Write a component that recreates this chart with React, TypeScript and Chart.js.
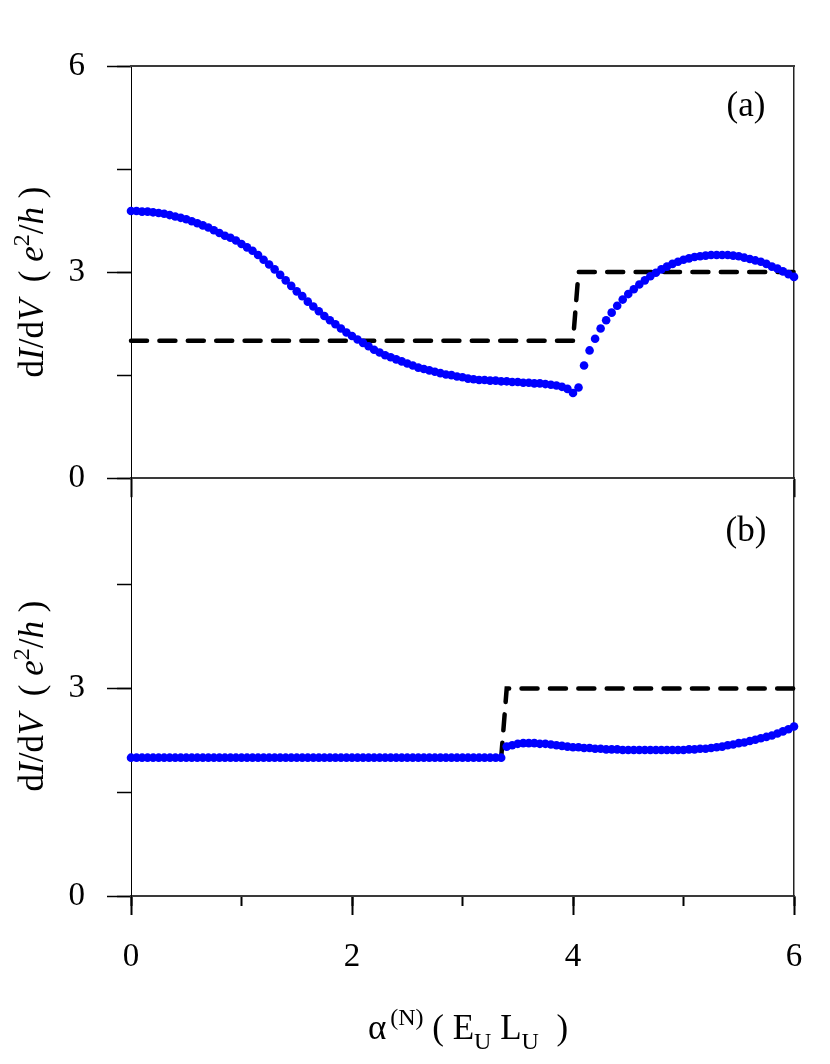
import { useEffect, useRef } from "react";
import { Chart, registerables, type ChartConfiguration } from "chart.js";

Chart.register(...registerables);

// sampling grid of the computed curves (alpha^(N) from 0 to 6)
const ALPHA_STEP = 0.05;

// panel (a): dI/dV, one value every 0.05 in alpha
const DIDV_A = [
  3.89, 3.89, 3.88, 3.88, 3.87, 3.86, 3.85, 3.83, 3.81, 3.79,
  3.77, 3.74, 3.71, 3.68, 3.65, 3.61, 3.57, 3.53, 3.5, 3.46,
  3.41, 3.36, 3.31, 3.25, 3.18, 3.11, 3.04, 2.96, 2.88, 2.8,
  2.72, 2.65, 2.57, 2.5, 2.43, 2.36, 2.3, 2.24, 2.18, 2.12,
  2.07, 2.02, 1.97, 1.92, 1.87, 1.83, 1.79, 1.76, 1.73, 1.7,
  1.67, 1.64, 1.61, 1.59, 1.57, 1.55, 1.53, 1.51, 1.5, 1.48,
  1.47, 1.45, 1.44, 1.43, 1.43, 1.42, 1.42, 1.41, 1.41, 1.4,
  1.4, 1.39, 1.39, 1.38, 1.38, 1.37, 1.36, 1.35, 1.33, 1.3,
  1.24, 1.32, 1.64, 1.86, 2.03, 2.18, 2.3, 2.41, 2.51, 2.6,
  2.68, 2.75, 2.82, 2.88, 2.94, 2.99, 3.04, 3.08, 3.12, 3.15,
  3.18, 3.2, 3.22, 3.23, 3.24, 3.25, 3.25, 3.25, 3.25, 3.24,
  3.23, 3.21, 3.19, 3.17, 3.15, 3.12, 3.08, 3.05, 3.01, 2.97,
  2.93,
];

// panel (b)
const DIDV_B = [
  2, 2, 2, 2, 2, 2, 2, 2, 2, 2,
  2, 2, 2, 2, 2, 2, 2, 2, 2, 2,
  2, 2, 2, 2, 2, 2, 2, 2, 2, 2,
  2, 2, 2, 2, 2, 2, 2, 2, 2, 2,
  2, 2, 2, 2, 2, 2, 2, 2, 2, 2,
  2, 2, 2, 2, 2, 2, 2, 2, 2, 2,
  2, 2, 2, 2, 2, 2, 2, 2, 2.16, 2.18,
  2.2, 2.21, 2.21, 2.21, 2.2, 2.2, 2.19, 2.18, 2.17, 2.16,
  2.15, 2.15, 2.14, 2.14, 2.13, 2.13, 2.12, 2.12, 2.12, 2.11,
  2.11, 2.11, 2.11, 2.11, 2.11, 2.11, 2.11, 2.11, 2.11, 2.11,
  2.11, 2.12, 2.12, 2.13, 2.13, 2.14, 2.15, 2.16, 2.18, 2.19,
  2.21, 2.22, 2.24, 2.26, 2.28, 2.3, 2.32, 2.35, 2.38, 2.41,
  2.45,
];

// dashed step (quantised conductance)
const STEP_A_X = [0, 4.0, 4.05, 6];
const STEP_A_Y = [2, 2, 3, 3];
const STEP_B_X = [0, 3.35, 3.4, 6];
const STEP_B_Y = [2, 2, 3, 3];

const X_MIN = 0;
const X_MAX = 6;
const Y_MIN = 0;
const Y_MAX = 6;
const Y_MAJOR = 3;
const Y_MINOR = 1.5;

const SERIF = '"Liberation Serif", "Times New Roman", serif';
const W = 830;

type PanelProps = {
  top: number;
  height: number;
  padTop: number;
  xHeight: number;
  values: number[];
  stepX: number[];
  stepY: number[];
  bottomPanel: boolean;
};

function buildConfig(p: PanelProps): ChartConfiguration<"scatter"> {
  const dots = p.values.map((v, i) => ({ x: +(i * ALPHA_STEP).toFixed(2), y: v }));
  const step = p.stepX.map((x, i) => ({ x, y: p.stepY[i] }));
  const tickFont = { family: SERIF, size: 33 };
  // the top tick of panel (b) is already drawn by panel (a)
  const yTickColor = (ctx: any) =>
    p.bottomPanel && ctx.tick && ctx.tick.value === Y_MAX ? "rgba(0,0,0,0)" : "#000";

  const scales: any = {
    x: {
      type: "linear",
      axis: "x",
      position: "bottom",
      weight: 1,
      min: X_MIN,
      max: X_MAX,
      afterFit: (s: any) => {
        s.height = p.xHeight;
      },
      ticks: {
        stepSize: p.bottomPanel ? 2 : 6,
        display: p.bottomPanel,
        font: tickFont,
        color: "#000",
        padding: 23,
        maxRotation: 0,
        autoSkip: false,
      },
      grid: { drawOnChartArea: false, tickLength: 19, tickWidth: 2, tickColor: "#000" },
      border: { color: "#3a3a3a", width: 2 },
    },
    y: {
      type: "linear",
      axis: "y",
      position: "left",
      weight: 1,
      min: Y_MIN,
      max: Y_MAX,
      afterFit: (s: any) => {
        s.width = 131;
      },
      ticks: {
        stepSize: Y_MAJOR,
        font: tickFont,
        color: "#000",
        padding: 22,
        callback: (v: any) => (p.bottomPanel && v === Y_MAX ? "" : String(v)),
      },
      grid: { drawOnChartArea: false, tickLength: 24, tickWidth: 1.5, tickColor: yTickColor },
      border: { color: "#000", width: 1 },
    },
    yMinor: {
      type: "linear",
      axis: "y",
      position: "left",
      weight: 0,
      min: Y_MIN,
      max: Y_MAX,
      afterFit: (s: any) => {
        s.width = 0;
      },
      ticks: { stepSize: Y_MINOR, display: false },
      grid: { drawOnChartArea: false, tickLength: 14, tickWidth: 1.5, tickColor: yTickColor },
      border: { display: false },
    },
    yRight: {
      type: "linear",
      axis: "y",
      position: "right",
      min: Y_MIN,
      max: Y_MAX,
      afterFit: (s: any) => {
        s.width = 0;
      },
      ticks: { display: false },
      grid: { drawOnChartArea: false, drawTicks: false },
      border: { color: "#222", width: 1.5 },
    },
  };

  if (p.bottomPanel) {
    scales.xMinor = {
      type: "linear",
      axis: "x",
      position: "bottom",
      weight: 0,
      min: X_MIN,
      max: X_MAX,
      afterFit: (s: any) => {
        s.height = 0;
      },
      ticks: { stepSize: 1, display: false },
      grid: { drawOnChartArea: false, tickLength: 10, tickWidth: 2, tickColor: "#000" },
      border: { display: false },
    };
  } else {
    scales.xTop = {
      type: "linear",
      axis: "x",
      position: "top",
      min: X_MIN,
      max: X_MAX,
      afterFit: (s: any) => {
        s.height = 0;
      },
      ticks: { display: false },
      grid: { drawOnChartArea: false, drawTicks: false },
      border: { color: "#3a3a3a", width: 2 },
    };
  }

  return {
    type: "scatter",
    data: {
      datasets: [
        {
          data: dots,
          xAxisID: "x",
          yAxisID: "y",
          showLine: false,
          pointRadius: 4.3,
          pointHoverRadius: 4.3,
          pointBackgroundColor: "#0000ff",
          pointBorderWidth: 0,
          clip: false,
        },
        {
          data: step,
          xAxisID: "x",
          yAxisID: "y",
          showLine: true,
          borderColor: "#000",
          borderWidth: 4.5,
          borderDash: [16, 12.4],
          borderCapStyle: "round",
          pointRadius: 0,
          tension: 0,
          clip: false,
        } as any,
      ],
    },
    options: {
      animation: false,
      responsive: false,
      events: [],
      layout: { padding: { left: 0, top: p.padTop, right: W - 794, bottom: 0 } },
      plugins: { legend: { display: false }, tooltip: { enabled: false } },
      scales,
    },
  };
}

function Panel(p: PanelProps) {
  const canvasRef = useRef<HTMLCanvasElement>(null);

  useEffect(() => {
    if (!canvasRef.current) return;
    const chart = new Chart(canvasRef.current, buildConfig(p));
    return () => chart.destroy();
  }, []);

  return (
    <canvas
      ref={canvasRef}
      width={W}
      height={p.height}
      style={{ position: "absolute", left: 0, top: p.top, width: W, height: p.height }}
    />
  );
}

const text: React.CSSProperties = {
  position: "absolute",
  fontFamily: SERIF,
  fontSize: 35,
  color: "#000",
  whiteSpace: "nowrap",
  lineHeight: 1,
};
const sup: React.CSSProperties = { fontSize: 24, position: "relative", top: "-0.6em" };
const sub: React.CSSProperties = { fontSize: 24, position: "relative", top: "0.4em" };

function YTitle({ cy }: { cy: number }) {
  return (
    <div style={{ ...text, left: 31, top: cy, transform: "translate(-50%, -50%) rotate(-90deg)" }}>
      d<i>I</i>/d<i>V</i>
      {"\u00a0\u00a0(\u00a0"}
      <i>e</i>
      <span style={sup}>2</span>/<i>h</i>
      {"\u00a0)"}
    </div>
  );
}

export default function App() {
  return (
    <div style={{ position: "absolute", left: 0, top: 0, width: W, height: 1064, background: "#fff" }}>
      <Panel
        top={0}
        height={520}
        padTop={66}
        xHeight={520 - 481}
        values={DIDV_A}
        stepX={STEP_A_X}
        stepY={STEP_A_Y}
        bottomPanel={false}
      />
      <Panel
        top={430}
        height={634}
        padTop={481 - 430}
        xHeight={634 - (896 - 430)}
        values={DIDV_B}
        stepX={STEP_B_X}
        stepY={STEP_B_Y}
        bottomPanel={true}
      />
      <YTitle cy={282} />
      <YTitle cy={696} />
      <div style={{ ...text, left: 746, top: 104, transform: "translate(-50%, -50%)" }}>(a)</div>
      <div style={{ ...text, left: 746, top: 529, transform: "translate(-50%, -50%)" }}>(b)</div>
      <div style={{ ...text, left: 468, top: 1027, transform: "translate(-50%, -50%)" }}>
        α<span style={{ ...sup, marginLeft: 4 }}>(N)</span>
        {"\u00a0(\u00a0"}E<span style={sub}>U</span>
        {"\u00a0"}L<span style={sub}>U</span>
        {"\u00a0\u00a0)"}
      </div>
    </div>
  );
}
